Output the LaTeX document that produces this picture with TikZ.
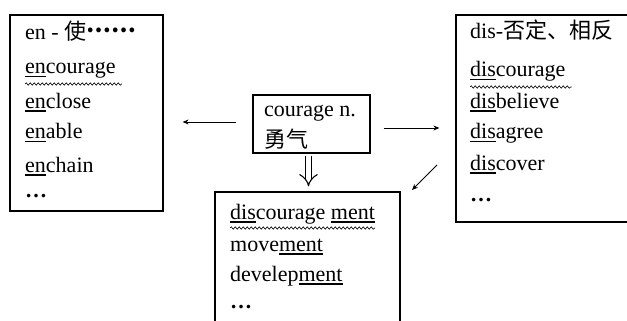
\documentclass[tikz,border=0pt]{standalone}
\usepackage{fontspec}
\setmainfont{Liberation Serif}
\newfontfamily\cjk{Noto Sans CJK SC}
\usetikzlibrary{arrows.meta,decorations.pathmorphing}
\newcommand\uln[1]{\setbox0\hbox{#1}\rlap{\rule[-3.5pt]{\wd0}{1.1pt}}\box0}

\begin{document}
\begin{tikzpicture}[x=1pt, y=-1pt,
    box/.style={draw, line width=1.2pt, inner sep=0pt},
    word/.style={anchor=base west, inner sep=0pt, font=\fontsize{22}{26}\selectfont},
    wave/.style={decorate, decoration={snake, segment length=4pt, amplitude=1.2pt}, line width=0.6pt},
    arr/.style={line width=0.8pt, -{Stealth[length=6pt, width=5pt]}}]
  \useasboundingbox (0,0) rectangle (627,321);
  % Boxes
  \node[box, minimum width=153pt, minimum height=196pt] at (86.5,113) (enbox) {};
  \node[box, minimum width=200pt, minimum height=207pt] at (556,118.5) (disbox) {};
  \node[box, minimum width=117pt, minimum height=58pt] at (311.5,124) (couragebox) {};
  \node[box, minimum width=185pt, minimum height=160pt] at (307.5,272) (mentbox) {};

  % en- words
  \node[word] at (25,40) (en0) {en - {\cjk 使\raisebox{7pt}{\textbf{……}}}};
  \node[word] at (25,74) (en1) {\uln{en}courage};
  \node[word] at (25,108) (en2) {\uln{en}close};
  \node[word] at (25,139) (en3) {\uln{en}able};
  \node[word] at (25,172) (en4) {\uln{en}chain};
  \node[word] at (25,197) (en5) {\textbf{…}};

  % dis- words
  \node[word] at (470,39) (dis0) {dis-{\cjk 否定、相反}};
  \node[word] at (470,77) (dis1) {\uln{dis}courage};
  \node[word] at (470,108) (dis2) {\uln{dis}believe};
  \node[word] at (470,139) (dis3) {\uln{dis}agree};
  \node[word] at (470,170) (dis4) {\uln{dis}cover};
  \node[word] at (470,201) (dis5) {\textbf{…}};

  % courage
  \node[word] at (264,117) (c0) {courage n.};
  \node[word] at (264,147) (c1) {{\cjk 勇气}};

  % -ment words
  \node[word] at (230,219) (m0) {\uln{dis}courage \uln{ment}};
  \node[word] at (230,251) (m1) {move\uln{ment}};
  \node[word] at (230,281) (m2) {develep\uln{ment}};
  \node[word] at (230,308) (m3) {\textbf{…}};

  % Wavy lines
  \draw[wave] ([yshift=-10pt]en1.base west) -- ([yshift=-10pt,xshift=6pt]en1.base east);
  \draw[wave] ([yshift=-10pt]dis1.base west) -- ([yshift=-10pt,xshift=6pt]dis1.base east);
  \draw[wave] ([yshift=-9pt]m0.base west) -- ([yshift=-9pt]m0.base east);

  % Arrows
  \coordinate (d1) at (437,165);
  \coordinate (d2) at (412,190);
  \draw[arr, shorten <=16pt, shorten >=19pt] ([yshift=2pt]couragebox.west) -- ([yshift=2pt]enbox.east |- couragebox.west);
  \draw[arr, shorten <=13pt, shorten >=16pt] ([yshift=-4pt]couragebox.east) -- ([yshift=-4pt]disbox.west |- couragebox.east);
  \draw[double, double distance=5.5pt, line width=1.1pt, -{Implies}, shorten <=2pt, shorten >=5pt]
    ([xshift=-3pt]couragebox.south) -- ([xshift=-3pt]couragebox.south |- mentbox.north);
  \draw[arr] (d1) -- (d2);
\end{tikzpicture}
\end{document}
